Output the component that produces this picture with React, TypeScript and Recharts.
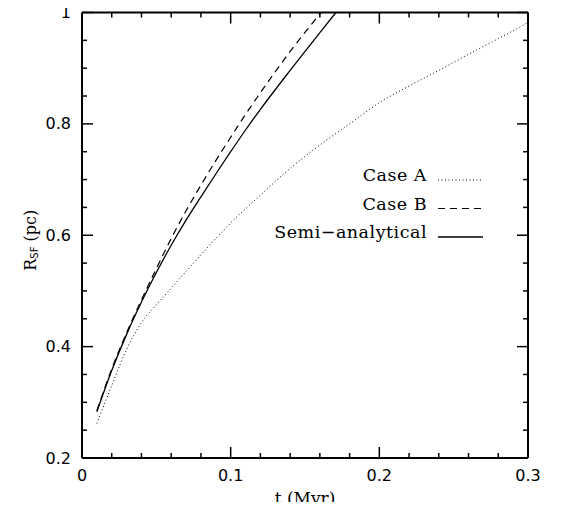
import React from 'react';
import { LineChart, Line, XAxis, YAxis, Legend } from 'recharts';

// Case A (dotted)
const tCaseA = [0.01, 0.02, 0.03, 0.04, 0.05, 0.06, 0.07, 0.08, 0.10, 0.12, 0.14, 0.16, 0.18, 0.20, 0.22, 0.24, 0.26, 0.28, 0.30];
const rCaseA = [0.262, 0.33, 0.395, 0.443, 0.475, 0.505, 0.535, 0.565, 0.622, 0.672, 0.72, 0.762, 0.80, 0.838, 0.868, 0.896, 0.925, 0.953, 0.982];
// Case B (dashed)
const tCaseB = [0.01, 0.02, 0.03, 0.04, 0.05, 0.06, 0.07, 0.08, 0.09, 0.10, 0.11, 0.12, 0.14, 0.1608];
const rCaseB = [0.285, 0.36, 0.425, 0.484, 0.54, 0.594, 0.644, 0.69, 0.734, 0.776, 0.817, 0.856, 0.93, 1.0];
// Semi-analytical (solid)
const tSemi = [0.01, 0.02, 0.03, 0.04, 0.05, 0.06, 0.07, 0.08, 0.09, 0.10, 0.11, 0.12, 0.14, 0.16, 0.1708];
const rSemi = [0.283, 0.357, 0.422, 0.48, 0.533, 0.582, 0.627, 0.669, 0.71, 0.75, 0.789, 0.826, 0.896, 0.964, 1.0];

const xTicks = [0, 0.02, 0.04, 0.06, 0.08, 0.1, 0.12, 0.14, 0.16, 0.18, 0.2, 0.22, 0.24, 0.26, 0.28, 0.3];
const yTicks = [0.2, 0.25, 0.3, 0.35, 0.4, 0.45, 0.5, 0.55, 0.6, 0.65, 0.7, 0.75, 0.8, 0.85, 0.9, 0.95, 1];
const xMajorLabels: Record<string, string> = { '0': '0', '0.1': '0.1', '0.2': '0.2', '0.3': '0.3' };
const yMajorLabels: Record<string, string> = { '0.2': '0.2', '0.4': '0.4', '0.6': '0.6', '0.8': '0.8', '1': '1' };

const legendItems = [
  { name: 'Case A', dash: '1 2.5', width: 1 },
  { name: 'Case B', dash: '7 5', width: 1.2 },
  { name: 'Semi\u2212analytical', dash: undefined as string | undefined, width: 1.3 },
];

const zip = (ts: number[], rs: number[]) => ts.map((t, i) => ({ t, r: rs[i] }));
const caseA = zip(tCaseA, rCaseA);
const caseB = zip(tCaseB, rCaseB);
const semi = zip(tSemi, rSemi);

const isMajorX = (v: number) => Math.abs(v * 10 - Math.round(v * 10)) < 1e-6;
const isMajorY = (v: number) => Math.abs(v * 5 - Math.round(v * 5)) < 1e-6;

const TICK_FONT = { fontFamily: 'DejaVu Sans', fontSize: 16, fill: '#000' };
const SERIF = 'DejaVu Serif';

const XTickBottom = (props: any) => {
  const { x, y, payload } = props;
  const v = payload.value;
  const major = isMajorX(v);
  const label = xMajorLabels[String(Math.round(v * 10) / 10)];
  return (
    <g>
      <line x1={x} y1={y} x2={x} y2={y - (major ? 11 : 5)} stroke="#000" strokeWidth={1.5} />
      {major && label !== undefined && (
        <text x={x} y={y + 17} textAnchor="middle" dominantBaseline="central" {...TICK_FONT}>{label}</text>
      )}
    </g>
  );
};

const XTickTop = (props: any) => {
  const { x, y, payload } = props;
  const major = isMajorX(payload.value);
  return <line x1={x} y1={y} x2={x} y2={y + (major ? 11 : 5)} stroke="#000" strokeWidth={1.5} />;
};

const YTickLeft = (props: any) => {
  const { x, y, payload } = props;
  const v = payload.value;
  const major = isMajorY(v);
  const label = yMajorLabels[String(Math.round(v * 5) / 5)];
  return (
    <g>
      <line x1={x} y1={y} x2={x + (major ? 11 : 5)} y2={y} stroke="#000" strokeWidth={1.5} />
      {major && label !== undefined && (
        <text x={x - 11} y={y} textAnchor="end" dominantBaseline="central" {...TICK_FONT}>{label}</text>
      )}
    </g>
  );
};

const YTickRight = (props: any) => {
  const { x, y, payload } = props;
  const major = isMajorY(payload.value);
  return <line x1={x} y1={y} x2={x - (major ? 11 : 5)} y2={y} stroke="#000" strokeWidth={1.5} />;
};

const XLabel = (props: any) => {
  const { viewBox } = props;
  const cx = viewBox.x + viewBox.width / 2;
  return (
    <text x={cx} y={viewBox.y + 46} textAnchor="middle" fontFamily={SERIF} fontSize={17} fill="#000">
      t (Myr)
    </text>
  );
};

const YLabel = (props: any) => {
  const { viewBox } = props;
  const cx = viewBox.x + 22;
  const cy = viewBox.y + viewBox.height / 2 + 5;
  return (
    <text x={cx} y={cy} transform={`rotate(-90, ${cx}, ${cy})`} textAnchor="middle" dominantBaseline="central" fontFamily={SERIF} fontSize={16} fill="#000">
      R<tspan dy={4} fontSize={10} fontFamily="DejaVu Sans">SF</tspan>
      <tspan dy={-4}> (pc)</tspan>
    </text>
  );
};

const LegendContent = () => (
  <svg width={240} height={100} style={{ display: 'block' }}>
    {legendItems.map((it, i) => {
      const base = 21 + i * 28.5;
      return (
        <g key={it.name}>
          <text x={167} y={base} textAnchor="end" fontFamily={SERIF} fontSize={17.5} letterSpacing={0.5} fill="#000">{it.name}</text>
          <line x1={178} y1={base - 1} x2={223} y2={base - 1} stroke="#000" strokeWidth={it.width} strokeDasharray={it.dash} />
        </g>
      );
    })}
  </svg>
);

export default function App() {
  return (
    <div style={{ marginTop: -8, marginBottom: -8 }}>
      <LineChart width={549} height={510} margin={{ top: 7.5, right: 0, bottom: 0, left: 0 }}>
        <XAxis
          xAxisId={0}
          type="number"
          dataKey="t"
          domain={[0, 0.3]}
          ticks={xTicks}
          interval={0}
          tickSize={0}
          tickMargin={0}
          tickLine={false}
          tick={<XTickBottom />}
          axisLine={{ stroke: '#000', strokeWidth: 2 }}
          height={52}
          allowDataOverflow
          label={<XLabel />}
        />
        <XAxis
          xAxisId="top"
          orientation="top"
          type="number"
          dataKey="t"
          domain={[0, 0.3]}
          ticks={xTicks}
          interval={0}
          tickSize={0}
          tickMargin={0}
          tickLine={false}
          tick={<XTickTop />}
          axisLine={{ stroke: '#000', strokeWidth: 2 }}
          height={5}
          allowDataOverflow
        />
        <YAxis
          yAxisId={0}
          type="number"
          domain={[0.2, 1]}
          ticks={yTicks}
          interval={0}
          tickSize={0}
          tickMargin={0}
          tickLine={false}
          tick={<YTickLeft />}
          axisLine={{ stroke: '#000', strokeWidth: 2 }}
          width={74}
          allowDataOverflow
          label={<YLabel />}
        />
        <YAxis
          yAxisId="right"
          orientation="right"
          type="number"
          domain={[0.2, 1]}
          ticks={yTicks}
          interval={0}
          tickSize={0}
          tickMargin={0}
          tickLine={false}
          tick={<YTickRight />}
          axisLine={{ stroke: '#000', strokeWidth: 2 }}
          width={29}
          allowDataOverflow
        />
        <Legend
          layout="vertical"
          align="center"
          verticalAlign="middle"
          content={<LegendContent />}
          wrapperStyle={{ left: 252, top: 160, width: 240, height: 100 }}
        />
        <Line data={caseA} dataKey="r" name="Case A" type="monotone" stroke="#000" strokeWidth={1} strokeDasharray="1 2.5" dot={false} isAnimationActive={false} />
        <Line data={caseB} dataKey="r" name="Case B" type="monotone" stroke="#000" strokeWidth={1.2} strokeDasharray="7 5" dot={false} isAnimationActive={false} />
        <Line data={semi} dataKey="r" name="Semi-analytical" type="monotone" stroke="#000" strokeWidth={1.3} dot={false} isAnimationActive={false} />
      </LineChart>
    </div>
  );
}
